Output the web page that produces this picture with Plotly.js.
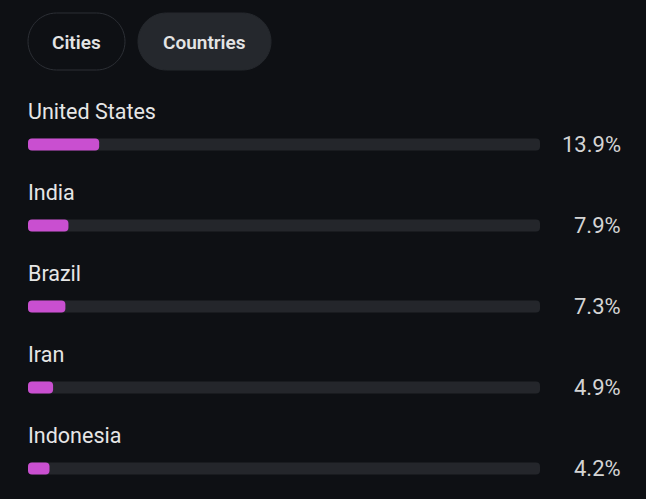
<!DOCTYPE html>
<html>
<head>
<meta charset="utf-8">
<script src="https://cdn.plot.ly/plotly-3.0.1.min.js"></script>
<style>
html,body{margin:0;padding:0;background:#0e1014;}
#chart{width:646px;height:499px;}
</style>
</head>
<body>
<div id="chart"></div>
<script>
const tabs = ['Cities', 'Countries'];
const activeTab = 'Countries';
const countries = ['United States', 'India', 'Brazil', 'Iran', 'Indonesia'];
const shares = [13.9, 7.9, 7.3, 4.9, 4.2];
const axisMax = 100;

const W = 646, H = 499;
const M = {l: 28, r: 106, t: 100, b: 9};
const plotW = W - M.l - M.r, plotH = H - M.t - M.b;
const px2x = p => (p - M.l) / plotW;
const py2y = p => (H - M.b - p) / plotH;

function pill(x0, x1, y0, y1) {
  const r = (y1 - y0) / 2, k = 0.5523 * r, yc = (y0 + y1) / 2;
  const P = (x, y) => px2x(x).toFixed(5) + ',' + py2y(y).toFixed(5);
  return 'M' + P(x0 + r, y0) + ' L' + P(x1 - r, y0) +
    ' C' + P(x1 - r + k, y0) + ' ' + P(x1, yc - k) + ' ' + P(x1, yc) +
    ' C' + P(x1, yc + k) + ' ' + P(x1 - r + k, y1) + ' ' + P(x1 - r, y1) +
    ' L' + P(x0 + r, y1) +
    ' C' + P(x0 + r - k, y1) + ' ' + P(x0, yc + k) + ' ' + P(x0, yc) +
    ' C' + P(x0, yc - k) + ' ' + P(x0 + r - k, y0) + ' ' + P(x0 + r, y0) + ' Z';
}

const idx = countries.map((c, i) => i);
const zeros = countries.map(() => 0);
const trackVals = countries.map(() => axisMax);
const track = {
  type: 'bar', orientation: 'h', y: idx, x: trackVals, base: zeros,
  width: 0.148, marker: {color: '#24262b', cornerradius: 4},
  hoverinfo: 'skip', showlegend: false
};
const vals = {
  type: 'bar', orientation: 'h', y: idx, x: shares, base: zeros,
  width: 0.148, marker: {color: '#c94fd0', cornerradius: 4},
  hoverinfo: 'skip', showlegend: false
};

const annotations = [];
countries.forEach((c, i) => {
  annotations.push({xref: 'paper', yref: 'y', x: 0, y: i - 0.41, xanchor: 'left', yanchor: 'middle',
    borderpad: 0, borderwidth: 0,
    text: c, showarrow: false, font: {family: 'Roboto', size: 21.5, color: '#e6e6e6'}});
  annotations.push({xref: 'paper', yref: 'y', x: px2x(621), y: i, xanchor: 'right', yanchor: 'middle',
    borderpad: 0, borderwidth: 0,
    text: shares[i].toFixed(1) + '%', showarrow: false, font: {family: 'Roboto', size: 22, color: '#d4d4d4'}});
});

const tabBoxes = [[28, 125], [138, 271]];
const shapes = [];
tabs.forEach((t, i) => {
  const [a, b] = tabBoxes[i];
  const active = t === activeTab;
  shapes.push({type: 'path', xref: 'paper', yref: 'paper', path: pill(a, b, 13, 70),
    fillcolor: active ? '#25282d' : 'rgba(0,0,0,0)',
    line: {color: active ? '#25282d' : '#2c2f35', width: 1}, layer: 'below'});
  annotations.push({xref: 'paper', yref: 'paper', x: px2x((a + b) / 2), y: py2y(42),
    xanchor: 'center', yanchor: 'middle', text: t, showarrow: false, borderpad: 0, borderwidth: 0,
    font: {family: 'Roboto', size: 19, weight: 600, color: '#e4e4e4'}});
});

const layout = {
  width: W, height: H, margin: M,
  paper_bgcolor: '#0e1014', plot_bgcolor: '#0e1014',
  barmode: 'overlay',
  xaxis: {range: [0, axisMax], visible: false, fixedrange: true},
  yaxis: {range: [(H - M.b - 144.5) / 81, -(144.5 - M.t) / 81], visible: false, fixedrange: true},
  shapes, annotations
};
Plotly.newPlot('chart', [track, vals], layout, {displayModeBar: false, staticPlot: true});
</script>
</body>
</html>
